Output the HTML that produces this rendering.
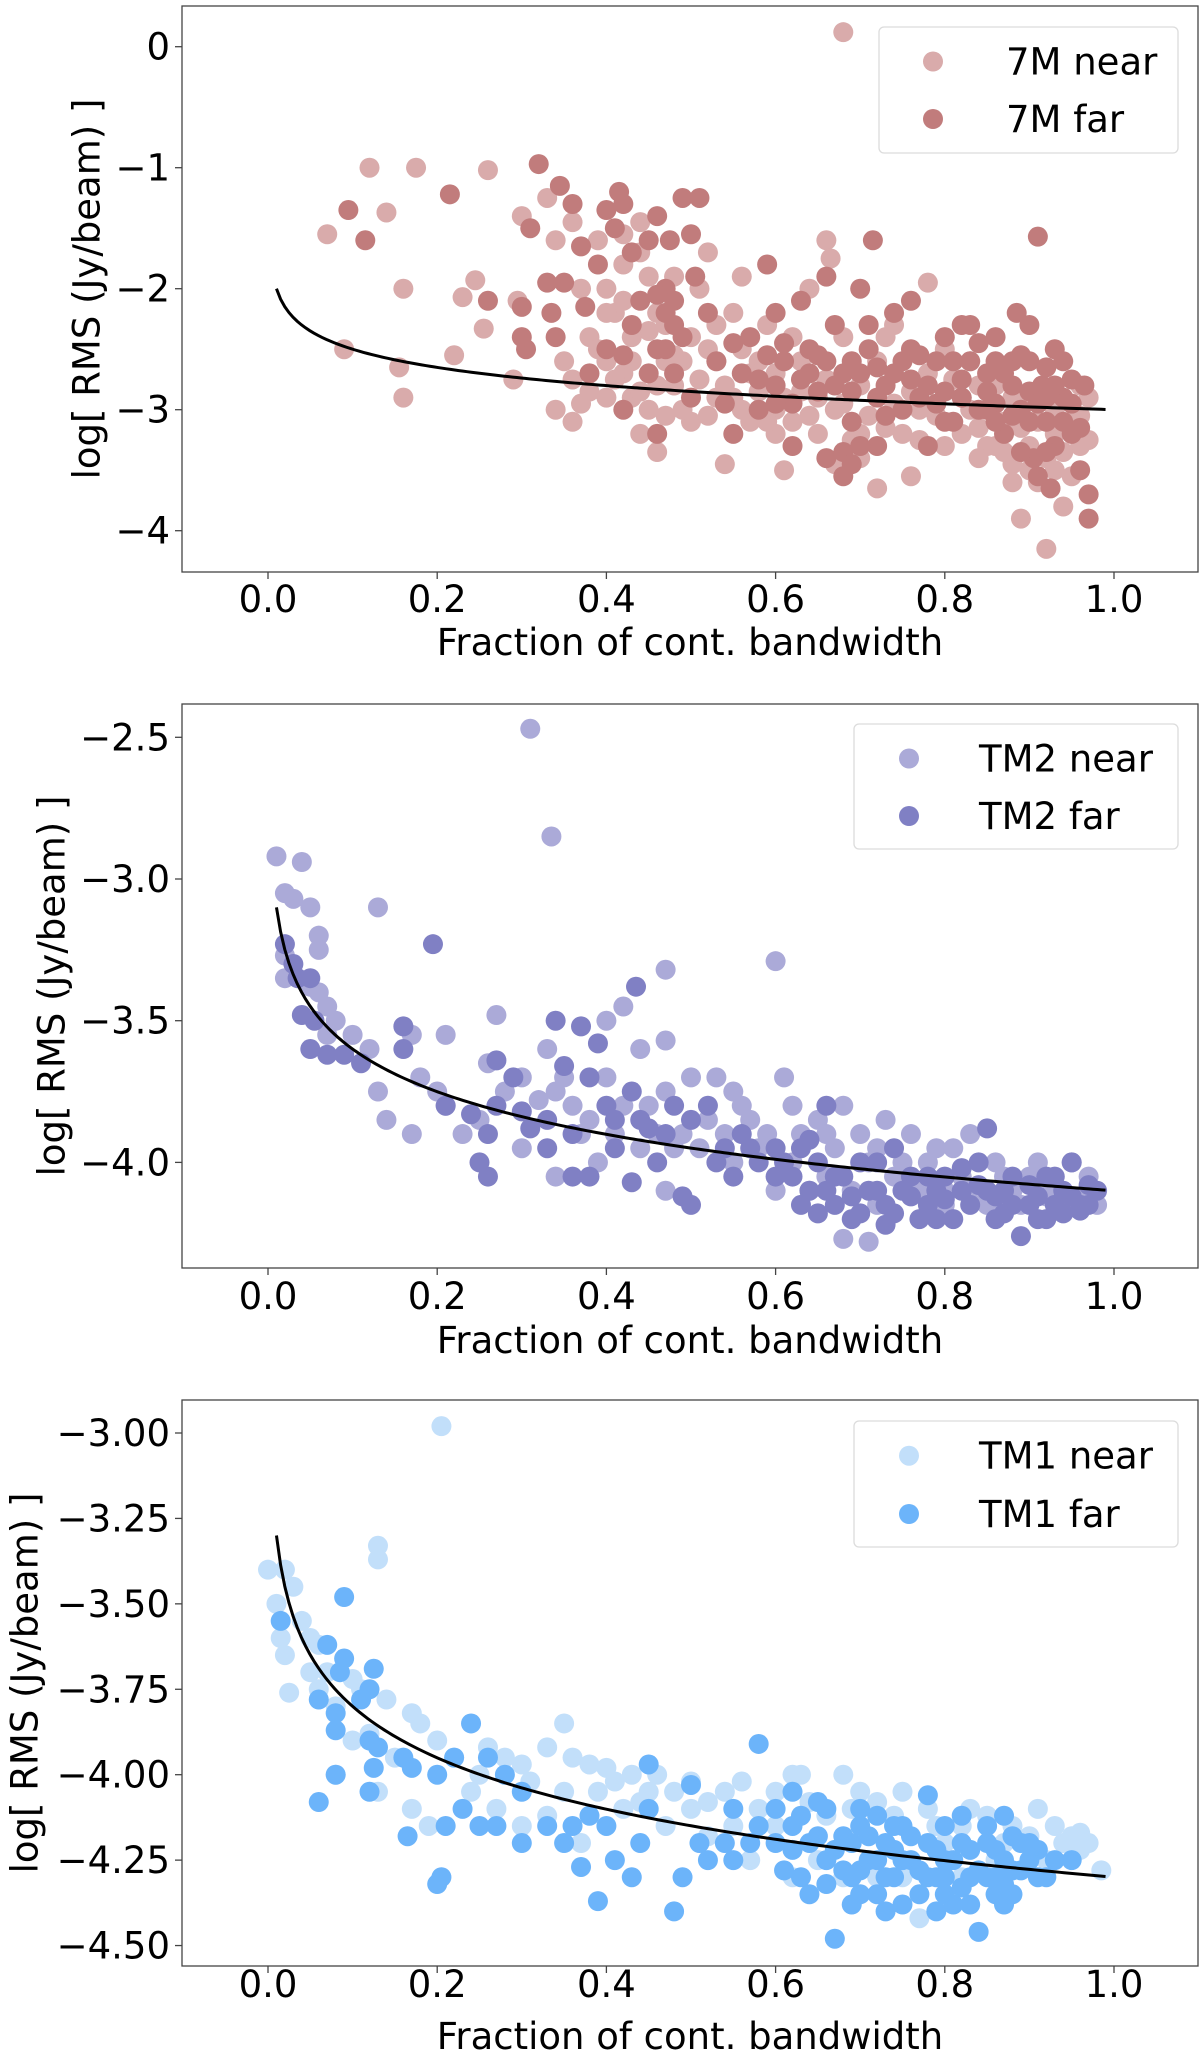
<!DOCTYPE html>
<html><head><meta charset="utf-8">
<style>
html,body{margin:0;padding:0;background:#fff;}
svg{display:block;}
text{font-family:"DejaVu Sans","Liberation Sans",sans-serif;fill:#000;}
</style></head>
<body>
<svg id="fig" width="1200" height="2055" viewBox="0 0 1200 2055" xmlns="http://www.w3.org/2000/svg"></svg>
<script>
// ---------- data ----------
const xTicks = [0.0, 0.2, 0.4, 0.6, 0.8, 1.0];
const xTickLabels = ["0.0","0.2","0.4","0.6","0.8","1.0"];

const p1Ticks = [0,-1,-2,-3,-4];
const p1TickLabels = ["0","\u22121","\u22122","\u22123","\u22124"];
const p2Ticks = [-2.5,-3,-3.5,-4];
const p2TickLabels = ["\u22122.5","\u22123.0","\u22123.5","\u22124.0"];
const p3Ticks = [-3,-3.25,-3.5,-3.75,-4,-4.25,-4.5];
const p3TickLabels = ["\u22123.00","\u22123.25","\u22123.50","\u22123.75","\u22124.00","\u22124.25","\u22124.50"];

const fitConst = [-3.0, -4.1, -4.3];
const fitSlope = [-0.5, -0.5, -0.5];

const p1Near = [[0.07,-1.55],[0.12,-1.0],[0.175,-1.0],[0.14,-1.37],[0.16,-2.0],[0.16,-2.9],[0.155,-2.65],[0.09,-2.5],[0.22,-2.55],[0.23,-2.07],[0.245,-1.93],[0.26,-1.02],[0.255,-2.33],[0.29,-2.75],[0.3,-1.4],[0.295,-2.1],[0.68,0.12],[0.33,-1.25],[0.34,-1.6],[0.36,-1.45],[0.37,-2.0],[0.35,-2.6],[0.34,-3.0],[0.36,-3.1],[0.38,-2.85],[0.4,-2.6],[0.41,-2.2],[0.42,-1.8],[0.44,-1.45],[0.45,-2.35],[0.43,-2.9],[0.44,-3.2],[0.46,-3.35],[0.47,-2.6],[0.48,-1.9],[0.5,-2.4],[0.52,-1.7],[0.53,-2.9],[0.54,-3.45],[0.55,-2.2],[0.56,-1.9],[0.58,-2.6],[0.6,-3.0],[0.61,-3.5],[0.62,-2.4],[0.64,-2.0],[0.66,-1.6],[0.665,-1.75],[0.67,-3.45],[0.7,-2.8],[0.72,-3.65],[0.74,-2.3],[0.76,-3.55],[0.78,-1.95],[0.8,-2.5],[0.82,-3.2],[0.84,-2.8],[0.86,-3.3],[0.88,-3.45],[0.89,-3.9],[0.9,-2.9],[0.92,-4.15],[0.93,-3.5],[0.94,-3.8],[0.96,-3.3],[0.97,-2.9],[0.4,-2.9],[0.42,-2.7],[0.45,-3.0],[0.48,-2.8],[0.5,-3.1],[0.52,-2.5],[0.55,-2.9],[0.57,-3.1],[0.6,-2.7],[0.62,-3.1],[0.65,-2.9],[0.67,-3.0],[0.7,-3.2],[0.72,-2.6],[0.75,-3.2],[0.77,-3.0],[0.8,-3.3],[0.82,-2.9],[0.85,-3.3],[0.87,-3.1],[0.9,-3.3],[0.92,-3.4],[0.95,-3.1],[0.96,-2.8],[0.38,-2.4],[0.4,-2.2],[0.43,-2.4],[0.46,-2.2],[0.49,-2.6],[0.51,-2.0],[0.53,-2.3],[0.56,-2.5],[0.59,-2.3],[0.63,-2.6],[0.68,-2.4],[0.73,-2.4],[0.78,-2.7],[0.83,-2.6],[0.88,-2.9],[0.93,-3.0],[0.84,-3.4],[0.88,-3.6],[0.91,-3.6],[0.7,-3.4],[0.65,-3.2],[0.6,-3.2],[0.36,-2.75],[0.37,-2.95],[0.39,-2.5],[0.41,-2.75],[0.43,-2.6],[0.44,-2.85],[0.46,-2.8],[0.47,-3.05],[0.48,-2.55],[0.49,-3.0],[0.51,-2.75],[0.52,-3.05],[0.53,-2.6],[0.54,-2.8],[0.56,-3.0],[0.57,-2.7],[0.58,-2.85],[0.59,-3.1],[0.61,-2.9],[0.63,-2.85],[0.64,-3.05],[0.66,-2.75],[0.68,-2.95],[0.69,-3.25],[0.71,-3.05],[0.73,-3.15],[0.74,-2.95],[0.76,-2.85],[0.77,-3.25],[0.79,-3.05],[0.81,-2.75],[0.83,-3.0],[0.84,-3.15],[0.86,-2.8],[0.87,-3.35],[0.89,-3.15],[0.9,-3.5],[0.91,-3.1],[0.93,-3.2],[0.94,-3.35],[0.95,-3.55],[0.96,-3.05],[0.97,-3.25],[0.4,-2.0],[0.42,-2.1],[0.44,-1.7],[0.45,-1.9],[0.47,-2.3],[0.39,-1.6],[0.42,-1.55]];
const p1Far = [[0.095,-1.35],[0.115,-1.6],[0.215,-1.22],[0.26,-2.1],[0.3,-2.15],[0.31,-1.5],[0.32,-0.97],[0.305,-2.5],[0.33,-1.95],[0.335,-2.2],[0.345,-1.15],[0.35,-1.95],[0.36,-1.3],[0.37,-1.65],[0.375,-2.15],[0.39,-1.8],[0.4,-1.35],[0.41,-1.5],[0.415,-1.2],[0.42,-1.3],[0.43,-1.7],[0.44,-2.1],[0.45,-1.6],[0.46,-1.4],[0.47,-2.0],[0.475,-1.6],[0.48,-2.3],[0.49,-1.25],[0.5,-1.55],[0.51,-1.25],[0.505,-1.9],[0.52,-2.2],[0.47,-2.5],[0.45,-2.7],[0.42,-3.0],[0.4,-2.5],[0.38,-2.7],[0.34,-2.4],[0.3,-2.4],[0.46,-3.2],[0.5,-2.9],[0.53,-2.6],[0.55,-3.2],[0.57,-2.4],[0.59,-1.8],[0.6,-2.2],[0.61,-2.6],[0.62,-2.95],[0.63,-2.1],[0.64,-2.5],[0.65,-2.85],[0.66,-1.9],[0.67,-2.3],[0.68,-2.7],[0.69,-3.1],[0.7,-2.0],[0.71,-2.5],[0.72,-3.3],[0.715,-1.6],[0.73,-2.8],[0.74,-2.2],[0.75,-3.0],[0.76,-2.5],[0.77,-2.9],[0.78,-3.3],[0.79,-2.6],[0.8,-2.85],[0.81,-3.1],[0.82,-2.3],[0.83,-2.6],[0.84,-3.0],[0.85,-2.7],[0.86,-2.4],[0.87,-3.2],[0.88,-2.8],[0.885,-2.2],[0.89,-3.0],[0.9,-2.6],[0.905,-3.4],[0.91,-1.57],[0.915,-2.8],[0.92,-3.1],[0.925,-3.65],[0.93,-2.5],[0.94,-2.9],[0.95,-3.2],[0.96,-3.5],[0.965,-2.8],[0.97,-3.9],[0.97,-3.7],[0.68,-3.55],[0.7,-3.3],[0.66,-3.4],[0.58,-3.0],[0.56,-2.7],[0.62,-3.3],[0.74,-2.7],[0.76,-2.1],[0.8,-2.4],[0.83,-2.3],[0.86,-2.6],[0.88,-2.6],[0.9,-2.3],[0.92,-2.9],[0.94,-2.6],[0.95,-2.95],[0.64,-2.7],[0.69,-2.6],[0.72,-2.9],[0.78,-2.8],[0.82,-2.9],[0.86,-2.95],[0.9,-3.1],[0.93,-3.3],[0.6,-2.8],[0.66,-2.6],[0.7,-2.7],[0.75,-2.6],[0.8,-3.1],[0.85,-3.0],[0.46,-2.05],[0.47,-2.2],[0.48,-2.1],[0.49,-2.4],[0.46,-2.5],[0.48,-2.7],[0.43,-2.3],[0.42,-2.55],[0.61,-2.45],[0.63,-2.75],[0.65,-2.55],[0.67,-2.8],[0.69,-2.85],[0.71,-2.3],[0.72,-2.65],[0.73,-3.05],[0.76,-2.75],[0.77,-2.55],[0.79,-2.95],[0.81,-2.6],[0.82,-2.75],[0.84,-2.45],[0.85,-2.85],[0.86,-3.1],[0.87,-2.7],[0.88,-3.05],[0.89,-2.55],[0.9,-2.85],[0.91,-2.95],[0.92,-2.65],[0.93,-2.8],[0.94,-3.1],[0.95,-2.75],[0.96,-3.15],[0.92,-3.35],[0.91,-3.55],[0.89,-3.35],[0.68,-3.35],[0.69,-3.45],[0.59,-2.55],[0.6,-2.95],[0.58,-2.75],[0.54,-2.95],[0.55,-2.45]];

const p2Near = [[0.31,-2.47],[0.335,-2.85],[0.01,-2.92],[0.04,-2.94],[0.02,-3.05],[0.03,-3.07],[0.05,-3.1],[0.13,-3.1],[0.6,-3.29],[0.47,-3.32],[0.42,-3.45],[0.4,-3.5],[0.27,-3.48],[0.47,-3.57],[0.08,-3.5],[0.06,-3.2],[0.06,-3.25],[0.02,-3.27],[0.02,-3.35],[0.05,-3.38],[0.06,-3.4],[0.07,-3.45],[0.07,-3.55],[0.1,-3.55],[0.12,-3.6],[0.13,-3.75],[0.14,-3.85],[0.17,-3.9],[0.17,-3.55],[0.21,-3.55],[0.2,-3.75],[0.18,-3.7],[0.21,-3.8],[0.26,-3.65],[0.28,-3.75],[0.3,-3.7],[0.33,-3.6],[0.34,-3.75],[0.36,-3.8],[0.38,-3.85],[0.4,-3.7],[0.41,-3.9],[0.44,-3.6],[0.45,-3.8],[0.47,-3.75],[0.5,-3.7],[0.52,-3.85],[0.53,-3.7],[0.55,-3.75],[0.57,-3.85],[0.61,-3.7],[0.63,-3.9],[0.65,-3.85],[0.68,-3.8],[0.7,-3.9],[0.73,-3.85],[0.75,-4.0],[0.78,-4.0],[0.79,-3.95],[0.83,-3.9],[0.86,-4.0],[0.9,-4.05],[0.95,-4.0],[0.97,-4.05],[0.68,-4.27],[0.71,-4.28],[0.3,-3.95],[0.34,-4.05],[0.39,-4.0],[0.47,-4.1],[0.55,-4.0],[0.6,-4.1],[0.66,-4.05],[0.72,-4.15],[0.8,-4.1],[0.85,-4.15],[0.92,-4.12],[0.44,-3.95],[0.25,-3.85],[0.23,-3.9],[0.49,-3.9],[0.58,-3.95],[0.8,-4.15],[0.88,-4.1],[0.94,-4.15],[0.32,-3.78],[0.35,-3.7],[0.37,-3.9],[0.42,-3.8],[0.46,-3.9],[0.48,-3.95],[0.51,-3.95],[0.54,-3.9],[0.56,-3.8],[0.59,-3.9],[0.62,-4.0],[0.64,-4.1],[0.67,-3.95],[0.69,-4.1],[0.71,-4.0],[0.74,-4.05],[0.76,-3.9],[0.77,-4.1],[0.82,-4.05],[0.84,-4.12],[0.87,-4.05],[0.89,-4.15],[0.91,-4.0],[0.93,-4.08],[0.96,-4.12],[0.98,-4.15],[0.62,-3.8],[0.66,-3.9],[0.72,-3.95],[0.81,-3.95]];
const p2Far = [[0.195,-3.23],[0.435,-3.38],[0.34,-3.5],[0.37,-3.52],[0.02,-3.23],[0.03,-3.3],[0.035,-3.35],[0.05,-3.35],[0.04,-3.48],[0.055,-3.5],[0.05,-3.6],[0.07,-3.62],[0.09,-3.62],[0.11,-3.65],[0.16,-3.52],[0.16,-3.6],[0.27,-3.64],[0.35,-3.66],[0.39,-3.58],[0.29,-3.7],[0.38,-3.7],[0.24,-3.83],[0.27,-3.8],[0.3,-3.82],[0.26,-3.9],[0.25,-4.0],[0.26,-4.05],[0.36,-4.05],[0.38,-4.05],[0.43,-4.07],[0.49,-4.12],[0.5,-4.15],[0.21,-3.8],[0.31,-3.88],[0.33,-3.85],[0.36,-3.9],[0.4,-3.8],[0.43,-3.75],[0.45,-3.88],[0.48,-3.8],[0.5,-3.85],[0.52,-3.8],[0.54,-3.95],[0.56,-3.9],[0.58,-4.0],[0.6,-3.95],[0.62,-4.05],[0.64,-3.92],[0.65,-4.0],[0.66,-3.8],[0.68,-4.05],[0.7,-4.0],[0.72,-4.1],[0.74,-3.95],[0.76,-4.05],[0.78,-4.15],[0.8,-4.05],[0.82,-4.1],[0.84,-4.0],[0.85,-3.88],[0.86,-4.12],[0.88,-4.05],[0.9,-4.15],[0.89,-4.26],[0.92,-4.05],[0.94,-4.1],[0.95,-4.0],[0.96,-4.15],[0.97,-4.08],[0.63,-4.15],[0.67,-4.15],[0.7,-4.18],[0.74,-4.18],[0.77,-4.2],[0.81,-4.2],[0.83,-4.15],[0.87,-4.18],[0.92,-4.2],[0.96,-4.17],[0.46,-4.0],[0.41,-3.95],[0.33,-3.95],[0.71,-4.1],[0.75,-4.1],[0.79,-4.1],[0.84,-4.08],[0.93,-4.15],[0.98,-4.1],[0.6,-4.05],[0.66,-4.1],[0.55,-4.05],[0.61,-4.0],[0.63,-3.95],[0.64,-4.1],[0.67,-4.05],[0.69,-4.12],[0.72,-4.0],[0.73,-4.15],[0.76,-4.12],[0.78,-4.05],[0.8,-4.13],[0.82,-4.02],[0.85,-4.1],[0.87,-4.1],[0.88,-4.15],[0.9,-4.08],[0.91,-4.12],[0.93,-4.05],[0.94,-4.18],[0.95,-4.12],[0.97,-4.15],[0.65,-4.18],[0.69,-4.2],[0.73,-4.22],[0.79,-4.2],[0.86,-4.2],[0.91,-4.2],[0.53,-4.0],[0.57,-3.95],[0.47,-3.9],[0.44,-3.85],[0.41,-3.85]];

const p3Near = [[0.205,-2.98],[0.13,-3.33],[0.13,-3.37],[0.0,-3.4],[0.02,-3.4],[0.03,-3.45],[0.01,-3.5],[0.015,-3.6],[0.02,-3.65],[0.04,-3.55],[0.05,-3.6],[0.06,-3.62],[0.07,-3.7],[0.05,-3.7],[0.025,-3.76],[0.06,-3.75],[0.08,-3.8],[0.1,-3.72],[0.11,-3.75],[0.14,-3.78],[0.17,-3.82],[0.18,-3.85],[0.12,-3.88],[0.1,-3.9],[0.15,-3.95],[0.2,-3.9],[0.22,-3.95],[0.26,-3.92],[0.28,-3.95],[0.3,-3.97],[0.33,-3.92],[0.35,-3.85],[0.38,-3.97],[0.4,-3.98],[0.43,-4.0],[0.46,-4.0],[0.5,-4.02],[0.54,-4.05],[0.56,-4.02],[0.6,-4.05],[0.62,-4.0],[0.63,-4.0],[0.68,-4.0],[0.7,-4.05],[0.72,-4.08],[0.75,-4.05],[0.78,-4.1],[0.82,-4.15],[0.85,-4.12],[0.88,-4.15],[0.9,-4.18],[0.93,-4.15],[0.95,-4.18],[0.97,-4.2],[0.985,-4.28],[0.92,-4.25],[0.96,-4.22],[0.13,-4.05],[0.17,-4.1],[0.19,-4.15],[0.27,-4.1],[0.3,-4.15],[0.33,-4.12],[0.37,-4.2],[0.42,-4.1],[0.5,-4.1],[0.55,-4.15],[0.57,-4.25],[0.6,-4.15],[0.65,-4.25],[0.72,-4.3],[0.77,-4.42],[0.45,-4.05],[0.24,-4.05],[0.08,-4.0],[0.35,-4.05],[0.47,-4.15],[0.52,-4.18],[0.8,-4.2],[0.86,-4.25],[0.25,-4.0],[0.31,-4.02],[0.36,-3.95],[0.39,-4.05],[0.41,-4.02],[0.44,-4.08],[0.48,-4.05],[0.52,-4.08],[0.58,-4.1],[0.64,-4.08],[0.66,-4.12],[0.69,-4.1],[0.74,-4.12],[0.79,-4.15],[0.83,-4.1],[0.87,-4.2],[0.91,-4.1],[0.94,-4.2],[0.96,-4.17],[0.62,-4.3],[0.68,-4.3],[0.75,-4.3],[0.82,-4.3]];
const p3Far = [[0.09,-3.48],[0.015,-3.55],[0.07,-3.62],[0.09,-3.66],[0.125,-3.69],[0.085,-3.7],[0.12,-3.75],[0.11,-3.78],[0.06,-3.78],[0.08,-3.82],[0.08,-3.87],[0.12,-3.9],[0.13,-3.92],[0.08,-4.0],[0.06,-4.08],[0.12,-4.05],[0.125,-3.98],[0.16,-3.95],[0.17,-3.98],[0.22,-3.95],[0.2,-4.0],[0.24,-3.85],[0.26,-3.95],[0.28,-4.0],[0.3,-4.05],[0.23,-4.1],[0.25,-4.15],[0.21,-4.15],[0.165,-4.18],[0.2,-4.32],[0.205,-4.3],[0.27,-4.15],[0.3,-4.2],[0.33,-4.15],[0.36,-4.15],[0.37,-4.27],[0.39,-4.37],[0.41,-4.25],[0.43,-4.3],[0.44,-4.2],[0.45,-4.1],[0.45,-3.97],[0.49,-4.3],[0.48,-4.4],[0.5,-4.03],[0.51,-4.2],[0.52,-4.25],[0.54,-4.2],[0.55,-4.1],[0.58,-3.91],[0.58,-4.15],[0.6,-4.2],[0.62,-4.15],[0.63,-4.3],[0.64,-4.2],[0.66,-4.25],[0.67,-4.48],[0.68,-4.18],[0.69,-4.3],[0.7,-4.15],[0.71,-4.25],[0.72,-4.35],[0.73,-4.2],[0.74,-4.3],[0.75,-4.15],[0.76,-4.25],[0.77,-4.35],[0.78,-4.2],[0.78,-4.06],[0.79,-4.3],[0.8,-4.25],[0.81,-4.38],[0.82,-4.2],[0.83,-4.3],[0.84,-4.46],[0.85,-4.2],[0.86,-4.3],[0.87,-4.25],[0.88,-4.35],[0.89,-4.2],[0.9,-4.25],[0.91,-4.3],[0.93,-4.25],[0.95,-4.25],[0.66,-4.1],[0.7,-4.1],[0.74,-4.15],[0.8,-4.15],[0.85,-4.15],[0.88,-4.18],[0.64,-4.35],[0.7,-4.35],[0.75,-4.38],[0.8,-4.35],[0.86,-4.35],[0.6,-4.1],[0.61,-4.28],[0.62,-4.22],[0.63,-4.12],[0.65,-4.18],[0.66,-4.32],[0.67,-4.22],[0.68,-4.28],[0.69,-4.2],[0.7,-4.28],[0.71,-4.18],[0.72,-4.25],[0.73,-4.3],[0.74,-4.22],[0.75,-4.25],[0.76,-4.18],[0.77,-4.28],[0.78,-4.3],[0.79,-4.22],[0.8,-4.3],[0.81,-4.25],[0.82,-4.33],[0.83,-4.22],[0.84,-4.28],[0.85,-4.3],[0.86,-4.22],[0.87,-4.32],[0.88,-4.28],[0.89,-4.28],[0.9,-4.2],[0.91,-4.22],[0.92,-4.3],[0.69,-4.38],[0.73,-4.4],[0.79,-4.4],[0.83,-4.38],[0.87,-4.38],[0.62,-4.05],[0.65,-4.08],[0.72,-4.12],[0.82,-4.12],[0.87,-4.12],[0.57,-4.2],[0.55,-4.25],[0.4,-4.15],[0.38,-4.12],[0.35,-4.2]];

// ---------- drawing ----------
const NS = "http://www.w3.org/2000/svg";
const svg = document.getElementById("fig");
function mk(tag, attrs, parent){
  const e = document.createElementNS(NS, tag);
  for (const k in attrs) e.setAttribute(k, attrs[k]);
  (parent || svg).appendChild(e);
  return e;
}
const X0 = 182, X1 = 1198;
const R = 10;
function xScale(v){ return 268 + 846 * v; }

const panels = [
  {key:"7m", top:6, bot:572, refV:0, refPx:46.7, ppu:121, ticks:p1Ticks, labels:p1TickLabels, near:p1Near, far:p1Far,
   cNear:"#d9abab", cFar:"#c17c7c", names:["7M near","7M far"], ylabX:87, tickBase:612, xlabBase:655,
   leg:{x:879,y:27,w:299,h:126,mx:933,tx:1006,r1:61.5,r2:119}},
  {key:"tm2", top:704, bot:1268, refV:-2.5, refPx:737.3, ppu:283.4, ticks:p2Ticks, labels:p2TickLabels, near:p2Near, far:p2Far,
   cNear:"#abaad8", cFar:"#8080c4", names:["TM2 near","TM2 far"], ylabX:52, tickBase:1309, xlabBase:1353,
   leg:{x:854,y:724,w:324,h:125,mx:909,tx:979,r1:758.5,r2:816}},
  {key:"tm1", top:1400, bot:1966, refV:-3, refPx:1433, ppu:341.7, ticks:p3Ticks, labels:p3TickLabels, near:p3Near, far:p3Far,
   cNear:"#c2dffa", cFar:"#6cb4fa", names:["TM1 near","TM1 far"], ylabX:25, tickBase:1997, xlabBase:2049,
   leg:{x:854,y:1421,w:324,h:126,mx:909,tx:979,r1:1455.7,r2:1514}}
];

panels.forEach((p, i) => {
  const yScale = v => p.refPx + (p.refV - v) * p.ppu;
  const g = mk("g", {});
  
  

  const clipId = "clip" + i;
  const cp = mk("clipPath", {id: clipId}, g);
  mk("rect", {x:X0, y:p.top, width:X1-X0, height:p.bot-p.top}, cp);

  const pts = mk("g", {"clip-path":"url(#" + clipId + ")"}, g);
  
  
  p.near.forEach(d => {
    const c = mk("circle", {cx:xScale(d[0]), cy:yScale(d[1]), r:R, fill:p.cNear}, pts);
    
    
  });
  p.far.forEach(d => {
    const c = mk("circle", {cx:xScale(d[0]), cy:yScale(d[1]), r:R, fill:p.cFar}, pts);
    
    
  });

  let dstr = "";
  for (let k = 0; k <= 200; k++) {
    const xv = 0.01 + (0.98 * k) / 200;
    const yv = fitConst[i] + fitSlope[i] * Math.log10(xv);
    dstr += (k ? "L" : "M") + xScale(xv).toFixed(2) + "," + yScale(yv).toFixed(2);
  }
  const fit = mk("path", {d:dstr, fill:"none", stroke:"#000", "stroke-width":3}, g);
  
  

  const fr = mk("rect", {x:X0, y:p.top, width:X1-X0, height:p.bot-p.top, fill:"none", stroke:"#444", "stroke-width":1.3}, g);
  
  

  xTicks.forEach((v, k) => {
    const x = xScale(v);
    mk("line", {x1:x, x2:x, y1:p.bot, y2:p.bot+7, stroke:"#444", "stroke-width":1.3}, g);
    const t = mk("text", {x:x, y:p.tickBase, "font-size":37, "text-anchor":"middle"}, g);
    t.textContent = xTickLabels[k];
    
    
  });
  p.ticks.forEach((v, k) => {
    const y = yScale(v);
    mk("line", {x1:X0-7, x2:X0, y1:y, y2:y, stroke:"#444", "stroke-width":1.3}, g);
    const t = mk("text", {x:170, y:y+13, "font-size":37, "text-anchor":"end"}, g);
    t.textContent = p.labels[k];
    
    
  });
  const xl = mk("text", {x:(X0+X1)/2, y:p.xlabBase, "font-size":37, "text-anchor":"middle"}, g);
  xl.textContent = "Fraction of cont. bandwidth";
  
  
  const cy = (p.top + p.bot) / 2;
  const yl = mk("text", {x:p.ylabX, y:cy, "font-size":37, "text-anchor":"middle", "dominant-baseline":"central",
                         transform:"rotate(-90 " + p.ylabX + " " + cy + ")"}, g);
  yl.textContent = "log[ RMS (Jy/beam) ]";
  
  

  const L = p.leg;
  const lg = mk("g", {}, g);
  
  
  mk("rect", {x:L.x, y:L.y, width:L.w, height:L.h, rx:5, fill:"#fff", "fill-opacity":0.85, stroke:"#dcdcdc", "stroke-width":1.3}, lg);
  [[L.r1, p.cNear, p.names[0]], [L.r2, p.cFar, p.names[1]]].forEach(e => {
    const eg = mk("g", {}, lg);
    
    
    mk("circle", {cx:L.mx, cy:e[0], r:R, fill:e[1]}, eg);
    const t = mk("text", {x:L.tx, y:e[0]+13, "font-size":37}, eg);
    t.textContent = e[2];
  });
});
</script>
</body></html>
